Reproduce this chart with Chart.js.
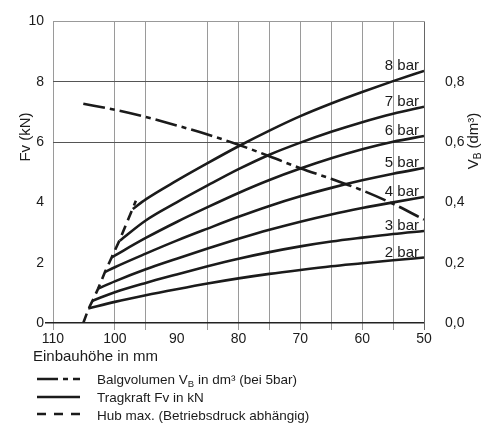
<!DOCTYPE html>
<html><head><meta charset="utf-8">
<script src="https://cdn.jsdelivr.net/npm/chart.js@4.4.1/dist/chart.umd.min.js"></script>
<style>html,body{margin:0;padding:0;background:#fff}#wrap{width:484px;height:426px}</style>
</head><body><div id="wrap"><canvas id="c" width="484" height="426"></canvas></div>
<script>
// Einbauhöhe (mm) grid for force curves
const heights = [100, 95, 90, 85, 80, 75, 70, 65, 60, 55, 50];
const pressureLabels = ['2 bar', '3 bar', '4 bar', '5 bar', '6 bar', '7 bar', '8 bar'];
// left start of each force curve (on the Hub-max line)
const startHeight = [104.3, 103.6, 102.7, 101.6, 100.5, 99.2, 97.1];
const startForce  = [0.48, 0.74, 1.14, 1.69, 2.18, 2.73, 3.78];
// Tragkraft Fv (kN) at heights
const force2bar = [0.70, 0.92, 1.12, 1.31, 1.48, 1.63, 1.76, 1.88, 1.98, 2.08, 2.17];
const force3bar = [1.02, 1.33, 1.61, 1.88, 2.13, 2.35, 2.54, 2.70, 2.83, 2.95, 3.05];
const force4bar = [1.38, 1.78, 2.13, 2.47, 2.79, 3.09, 3.36, 3.60, 3.81, 4.00, 4.18];
const force5bar = [1.85, 2.30, 2.73, 3.13, 3.52, 3.88, 4.20, 4.48, 4.73, 4.95, 5.14];
const force6bar = [null, 2.82, 3.35, 3.84, 4.31, 4.74, 5.12, 5.46, 5.76, 6.01, 6.20];
const force7bar = [null, 3.40, 4.00, 4.56, 5.10, 5.58, 5.98, 6.34, 6.66, 6.94, 7.17];
const force8bar = [null, 4.10, 4.72, 5.30, 5.86, 6.38, 6.86, 7.28, 7.66, 8.02, 8.36];
// Balgvolumen V_B (dm³) at 5 bar
const volumeHeight = [105.1, 100, 95, 90, 85, 80, 75, 70, 65, 60, 55, 50];
const volume5bar   = [0.727, 0.707, 0.683, 0.655, 0.625, 0.591, 0.553, 0.513, 0.478, 0.440, 0.395, 0.343];
// Hub max.
const hubHeight = [105.1, 104.3, 103.6, 102.7, 101.6, 100.5, 99.2, 97.1, 96.6];
const hubForce  = [0, 0.45, 0.74, 1.14, 1.69, 2.18, 2.76, 3.80, 4.05];
// ticks
const xTickLabels = [110, 100, 90, 80, 70, 60, 50];
const xGridValues = [110, 100, 95, 85, 80, 75, 70, 65, 60, 55, 50];
const yTickLabels = [0, 2, 4, 6, 8, 10];
const y1TickLabels = [0, 0.2, 0.4, 0.6, 0.8];

const forces = [force2bar, force3bar, force4bar, force5bar, force6bar, force7bar, force8bar];
const INK = '#1b1b1b';
const FONT = '"Liberation Sans", Arial, Helvetica, sans-serif';
const xTicksAll = Array.from(new Set([...xTickLabels, ...xGridValues])).sort((a, b) => b - a);

const datasets = forces.map((arr, i) => ({
  label: pressureLabels[i],
  data: [{x: startHeight[i], y: startForce[i]}].concat(
    heights.map((h, j) => ({x: h, y: arr[j]})).filter(p => p.y !== null)),
  borderColor: INK, borderWidth: 2.6, pointRadius: 0,
  cubicInterpolationMode: 'monotone', yAxisID: 'y', fill: false
}));
datasets.push({
  label: 'Balgvolumen',
  data: volumeHeight.map((h, j) => ({x: h, y: volume5bar[j]})),
  borderColor: INK, borderWidth: 2.6, pointRadius: 0, borderDash: [22, 5, 5, 5],
  cubicInterpolationMode: 'monotone', yAxisID: 'y1', fill: false
});
datasets.push({
  label: 'Hub max.',
  data: hubHeight.map((h, j) => ({x: h, y: hubForce[j]})),
  borderColor: INK, borderWidth: 2.6, pointRadius: 0, borderDash: [10, 6],
  tension: 0, yAxisID: 'y', fill: false
});

const textPlugin = {
  id: 'texts',
  afterDatasetsDraw(chart) {
    const ctx = chart.ctx;
    const xs = chart.scales.x;
    ctx.save();
    ctx.fillStyle = INK;
    // pressure labels
    ctx.font = '15px ' + FONT;
    ctx.textAlign = 'right';
    ctx.textBaseline = 'alphabetic';
    for (let i = 0; i < pressureLabels.length; i++) {
      const pts = chart.getDatasetMeta(i).data;
      const last = pts[pts.length - 1];
      ctx.fillText(pressureLabels[i], xs.getPixelForValue(50) - 5, last.y - 1);
    }
    // left axis title
    ctx.save();
    ctx.translate(30, 137);
    ctx.rotate(-Math.PI / 2);
    ctx.textAlign = 'center';
    ctx.font = '15px ' + FONT;
    ctx.fillText('Fv (kN)', 0, 0);
    ctx.restore();
    // right axis title V_B (dm³)
    ctx.save();
    ctx.translate(478, 141);
    ctx.rotate(-Math.PI / 2);
    ctx.textAlign = 'left';
    ctx.font = '15px ' + FONT;
    const wV = ctx.measureText('V').width;
    const wRest = ctx.measureText(' (dm³)').width;
    ctx.font = '10px ' + FONT;
    const wB = ctx.measureText('B').width;
    let x0 = -(wV + wB + wRest) / 2;
    ctx.font = '15px ' + FONT;
    ctx.fillText('V', x0, 0);
    ctx.font = '10px ' + FONT;
    ctx.fillText('B', x0 + wV, 3);
    ctx.font = '15px ' + FONT;
    ctx.fillText(' (dm³)', x0 + wV + wB, 0);
    ctx.restore();
    // x axis title
    ctx.textAlign = 'left';
    ctx.font = '15px ' + FONT;
    ctx.fillText('Einbauhöhe in mm', 33, 361);
    // legend
    const lx0 = 37, lx1 = 80, tx = 97;
    ctx.strokeStyle = INK;
    ctx.lineWidth = 2.6;
    const rows = [
      {dash: [21, 5, 5, 5], ly: 379, ty: 384},
      {dash: [], ly: 397, ty: 402},
      {dash: [9, 8], ly: 414, ty: 420}
    ];
    rows.forEach(r => {
      ctx.setLineDash(r.dash);
      ctx.beginPath();
      ctx.moveTo(lx0, r.ly); ctx.lineTo(lx1, r.ly);
      ctx.stroke();
    });
    ctx.setLineDash([]);
    ctx.font = '13.5px ' + FONT;
    let t = 'Balgvolumen V';
    ctx.fillText(t, tx, rows[0].ty);
    let w = ctx.measureText(t).width;
    ctx.font = '9.5px ' + FONT;
    ctx.fillText('B', tx + w, rows[0].ty + 3);
    const wb = ctx.measureText('B').width;
    ctx.font = '13.5px ' + FONT;
    ctx.fillText(' in dm³ (bei 5bar)', tx + w + wb, rows[0].ty);
    ctx.fillText('Tragkraft Fv in kN', tx, rows[1].ty);
    ctx.fillText('Hub max. (Betriebsdruck abhängig)', tx, rows[2].ty);
    ctx.restore();
  }
};

const tickFont = {family: FONT, size: 14};
const TR = 'rgba(0,0,0,0)';

new Chart(document.getElementById('c'), {
  type: 'line',
  data: {datasets},
  options: {
    responsive: false,
    animation: false,
    events: [],
    layout: {padding: {top: 19, left: 0, right: 0, bottom: 73}},
    plugins: {legend: {display: false}, tooltip: {enabled: false}},
    scales: {
      x: {
        type: 'linear', min: 50, max: 110, reverse: true, position: 'bottom',
        afterBuildTicks: s => { s.ticks = xTicksAll.map(v => ({value: v})); },
        afterFit: s => { s.height = 30; },
        ticks: {autoSkip: false, maxRotation: 0, font: tickFont, color: INK, padding: 1,
          callback: v => xTickLabels.includes(v) ? String(v) : ''},
        grid: {
          color: c => xGridValues.includes(c.tick && c.tick.value) ? (c.tick.value === 50 ? '#666' : '#9a9a9a') : TR,
          tickColor: c => xGridValues.includes(c.tick && c.tick.value) ? (c.tick.value === 50 ? '#666' : '#9a9a9a') : TR,
          tickLength: 7, lineWidth: 1
        },
        border: {display: false}
      },
      y: {
        type: 'linear', min: 0, max: 10, position: 'left',
        afterBuildTicks: s => { s.ticks = yTickLabels.map(v => ({value: v})); },
        afterFit: s => { s.width = 53; },
        ticks: {font: tickFont, color: INK, padding: 1},
        grid: {
          color: c => { const v = c.tick && c.tick.value; return v === 0 ? '#222' : (v === 6 || v === 8) ? '#555' : v === 10 ? '#999' : TR; },
          lineWidth: c => (c.tick && c.tick.value === 0) ? 1.5 : 1,
          tickColor: c => (c.tick && c.tick.value === 0) ? '#222' : TR,
          tickLength: 8
        },
        border: {display: false}
      },
      y1: {
        type: 'linear', min: 0, max: 1, position: 'right',
        afterBuildTicks: s => { s.ticks = y1TickLabels.map(v => ({value: v})); },
        afterFit: s => { s.width = 60; },
        ticks: {font: tickFont, color: INK, padding: 13,
          callback: v => v.toFixed(1).replace('.', ',')},
        grid: {display: false},
        border: {display: false}
      }
    }
  },
  plugins: [textPlugin]
});
</script>
</body></html>
